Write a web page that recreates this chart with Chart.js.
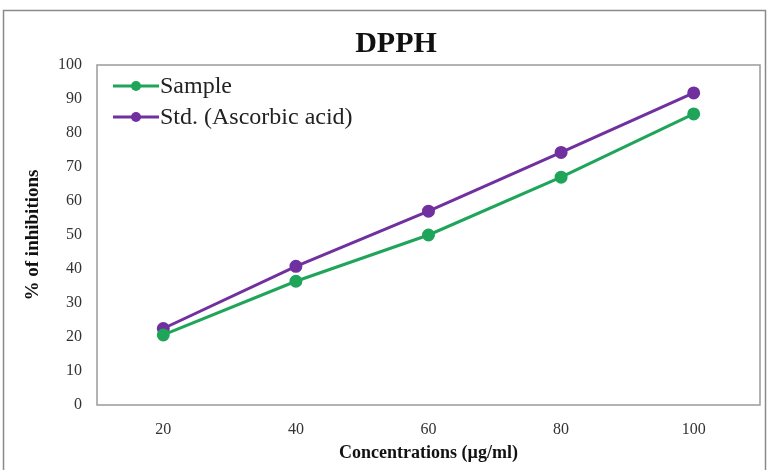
<!DOCTYPE html>
<html>
<head>
<meta charset="utf-8">
<script src="https://cdn.jsdelivr.net/npm/chart.js@4"></script>
<style>
  html, body { margin: 0; padding: 0; background: #fff; }
  #wrap { width: 769px; height: 470px; position: relative; }
</style>
</head>
<body>
<div id="wrap"><canvas id="dpphChart"></canvas></div>
<script>
// data
const concentrations = ['20', '40', '60', '80', '100'];
const sampleValues = [20.6, 36.4, 50.0, 67.0, 85.6];
const stdValues = [22.5, 40.8, 57.0, 74.3, 91.8];
const yTicks = [0, 10, 20, 30, 40, 50, 60, 70, 80, 90, 100];

const serif = "'Liberation Serif', 'Times New Roman', serif";
const green = '#1FA55A';
const purple = '#7030A0';

// frame, box round the plot, title and legend drawn by hand like the Excel chart
const decorations = {
    id: 'decorations',
    beforeDraw(chart) {
        const c = chart.ctx;
        c.save();
        c.strokeStyle = '#8a8a8a';
        c.lineWidth = 1.5;
        c.strokeRect(3.5, 10.5, 762, 470);
        c.restore();
    },
    afterDraw(chart) {
        const c = chart.ctx;
        const a = chart.chartArea;
        c.save();
        c.strokeStyle = '#9a9a9a';
        c.lineWidth = 1.5;
        c.strokeRect(a.left, a.top, a.right - a.left, a.bottom - a.top);

        c.fillStyle = '#111';
        c.font = 'bold 30px ' + serif;
        c.textAlign = 'center';
        c.textBaseline = 'middle';
        c.fillText('DPPH', 396, 44);

        c.font = '24px ' + serif;
        c.textAlign = 'left';
        chart.data.datasets.forEach(function(ds, i) {
            const y = 86 + i * 31;
            c.strokeStyle = ds.borderColor;
            c.fillStyle = ds.borderColor;
            c.lineWidth = 3;
            c.beginPath();
            c.moveTo(113, y);
            c.lineTo(159, y);
            c.stroke();
            c.beginPath();
            c.arc(136, y, 5, 0, Math.PI * 2);
            c.fill();
            c.fillStyle = '#222';
            c.fillText(ds.label, 160, y + 1);
        });
        c.restore();
    }
};

const ctx = document.getElementById('dpphChart').getContext('2d');

new Chart(ctx, {
    type: 'line',
    data: {
        labels: concentrations,
        datasets: [{
            label: 'Sample',
            data: sampleValues,
            borderColor: green,
            backgroundColor: green,
            borderWidth: 3,
            pointRadius: 5,
            fill: false
        }, {
            label: 'Std. (Ascorbic acid)',
            data: stdValues,
            borderColor: purple,
            backgroundColor: purple,
            borderWidth: 3,
            pointRadius: 5,
            fill: false
        }]
    },
    options: {
        responsive: true,
        maintainAspectRatio: false,
        animation: false,
        layout: {
            padding: { top: 65, left: 20, right: 9, bottom: 0 }
        },
        plugins: {
            legend: { display: false },
            title: { display: false },
            tooltip: { enabled: false }
        },
        scales: {
            x: {
                offset: true,
                grid: { display: false, drawTicks: false },
                border: { display: false },
                ticks: {
                    padding: 15,
                    color: '#333',
                    font: { family: serif, size: 16 }
                },
                title: {
                    display: true,
                    text: 'Concentrations (µg/ml)',
                    color: '#111',
                    padding: { top: 0, bottom: 6 },
                    font: { family: serif, size: 18, weight: 'bold' }
                },
                afterFit: function(scale) { scale.height = 65; }
            },
            y: {
                min: 0,
                max: 100,
                afterBuildTicks: function(scale) {
                    scale.ticks = yTicks.map(function(v) { return { value: v }; });
                },
                grid: { display: false, drawTicks: false },
                border: { display: false },
                ticks: {
                    padding: 15,
                    color: '#333',
                    font: { family: serif, size: 16 }
                },
                title: {
                    display: true,
                    text: '% of inhibitions',
                    color: '#111',
                    padding: { top: 2, bottom: 0 },
                    font: { family: serif, size: 19, weight: 'bold' }
                },
                afterFit: function(scale) { scale.width = 77; }
            }
        }
    },
    plugins: [decorations]
});
</script>
</body>
</html>
